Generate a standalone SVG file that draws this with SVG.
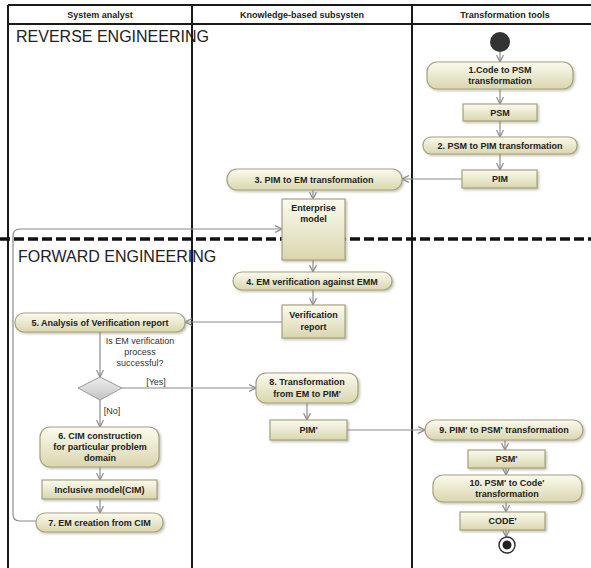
<svg xmlns="http://www.w3.org/2000/svg" width="591" height="568" viewBox="0 0 591 568">
<style>
.lane{stroke:#1a1a1a;stroke-width:2;fill:none}
.hdr{font-family:"Liberation Sans",Arial,sans-serif;font-size:9px;font-weight:bold;fill:#222;text-anchor:middle}
.sec{font-family:"Liberation Sans",Arial,sans-serif;font-size:16px;fill:#222}
.node{fill:url(#g);stroke:#a7a27a;stroke-width:1.2;filter:url(#sh)}
.t{font-family:"Liberation Sans",Arial,sans-serif;font-size:9px;font-weight:bold;fill:#222;text-anchor:middle}
.n{font-family:"Liberation Sans",Arial,sans-serif;font-size:9px;fill:#333;text-anchor:middle}
.c{stroke:#8a8a8a;stroke-width:1.2;fill:none;marker-end:url(#a)}
</style>
<defs>
<linearGradient id="g" x1="0" y1="0" x2="0" y2="1">
<stop offset="0" stop-color="#fbfbef"/>
<stop offset="1" stop-color="#d9d6ae"/>
</linearGradient>
<linearGradient id="gd" x1="0" y1="0" x2="0" y2="1">
<stop offset="0" stop-color="#eeeeee"/>
<stop offset="1" stop-color="#c4c4c4"/>
</linearGradient>
<filter id="sh" x="-10%" y="-20%" width="130%" height="150%">
<feDropShadow dx="1.5" dy="1.5" stdDeviation="1" flood-color="#888" flood-opacity="0.5"/>
</filter>
<marker id="a" viewBox="0 0 8 8" refX="7" refY="4" markerWidth="8" markerHeight="8" markerUnits="userSpaceOnUse" orient="auto">
<path d="M0,0.5 L7,4 L0,7.5" fill="none" stroke="#8a8a8a" stroke-width="1.2"/>
</marker>
</defs>
<rect width="591" height="568" fill="#fff"/>
<g id="lanes">
<text class="sec" x="16" y="42">REVERSE ENGINEERING</text>
<text class="sec" x="18" y="262">FORWARD ENGINEERING</text>
<line class="lane" x1="8" y1="5" x2="591" y2="5"/>
<line class="lane" x1="8" y1="24" x2="591" y2="24"/>
<line class="lane" x1="8" y1="5" x2="8" y2="568"/>
<line class="lane" x1="192" y1="5" x2="192" y2="568"/>
<line class="lane" x1="412" y1="5" x2="412" y2="568"/>
<text class="hdr" x="100" y="18">System analyst</text>
<text class="hdr" x="302" y="18">Knowledge-based subsysten</text>
<text class="hdr" x="505" y="18">Transformation tools</text>
</g>
<g id="connectors">
<line class="c" x1="500" y1="52" x2="500" y2="62"/>
<line class="c" x1="500" y1="89" x2="500" y2="104"/>
<line class="c" x1="500" y1="121" x2="500" y2="137"/>
<line class="c" x1="500" y1="154" x2="500" y2="170"/>
<line class="c" x1="462" y1="179" x2="402" y2="179"/>
<line class="c" x1="313" y1="190" x2="313" y2="199"/>
<path class="c" d="M36,521 H20 Q13,521 13,514 V236 Q13,229 20,229 H282"/>
<line class="c" x1="313" y1="260" x2="313" y2="272"/>
<line class="c" x1="313" y1="290" x2="313" y2="305"/>
<line class="c" x1="282" y1="322" x2="185" y2="322"/>
<line class="c" x1="100" y1="332" x2="100" y2="377"/>
<line class="c" x1="122" y1="388" x2="256" y2="388"/>
<line class="c" x1="100" y1="400" x2="100" y2="427"/>
<line class="c" x1="100" y1="467" x2="100" y2="480"/>
<line class="c" x1="100" y1="499" x2="100" y2="513"/>
<line class="c" x1="307" y1="403" x2="307" y2="420"/>
<line class="c" x1="347" y1="430" x2="425" y2="430"/>
<line class="c" x1="505" y1="440" x2="505" y2="450"/>
<line class="c" x1="506" y1="468" x2="506" y2="475"/>
<line class="c" x1="506" y1="502" x2="506" y2="512"/>
<line class="c" x1="506" y1="530" x2="506" y2="537"/>
<text class="n" x="140" y="344">Is EM verification</text>
<text class="n" x="140" y="355">process</text>
<text class="n" x="140" y="366">successful?</text>
<text class="n" x="156" y="385">[Yes]</text>
<text class="n" x="112" y="414">[No]</text>
</g>
<line x1="0" y1="239" x2="591" y2="239" stroke="#111" stroke-width="3.5" stroke-dasharray="10 4"/>
<g id="start"><circle cx="500" cy="42" r="10" fill="#333"/></g>
<g id="n1"><rect class="node" x="427" y="62" width="146" height="27" rx="10"/><text class="t" x="500" y="73">1.Code to PSM</text><text class="t" x="500" y="84">transformation</text></g>
<g id="psm"><rect class="node" x="463" y="104" width="74" height="17"/><text class="t" x="500" y="116">PSM</text></g>
<g id="n2"><rect class="node" x="423" y="137" width="154" height="17" rx="8"/><text class="t" x="500" y="149">2. PSM to PIM transformation</text></g>
<g id="pim"><rect class="node" x="462" y="170" width="75" height="18"/><text class="t" x="500" y="182">PIM</text></g>
<g id="n3"><rect class="node" x="227" y="169" width="175" height="21" rx="10"/><text class="t" x="314" y="182.5">3. PIM to EM transformation</text></g>
<g id="em"><rect class="node" x="282" y="199" width="63" height="61"/><text class="t" x="313.5" y="211">Enterprise</text><text class="t" x="313.5" y="222">model</text></g>
<g id="n4"><rect class="node" x="233" y="272" width="159" height="18" rx="9"/><text class="t" x="312" y="284.5">4. EM verification against EMM</text></g>
<g id="vr"><rect class="node" x="282" y="305" width="63" height="33"/><text class="t" x="313.5" y="318">Verification</text><text class="t" x="313.5" y="330">report</text></g>
<g id="n5"><rect class="node" x="15" y="313" width="170" height="19" rx="9"/><text class="t" x="100" y="326">5. Analysis of Verification report</text></g>
<g id="decision"><polygon points="100,377 122,388 100,400 78,388" fill="url(#gd)" stroke="#999" stroke-width="1"/></g>
<g id="n8"><rect class="node" x="256" y="373" width="102" height="30" rx="10"/><text class="t" x="307" y="385">8. Transformation</text><text class="t" x="307" y="397">from EM to PIM'</text></g>
<g id="pim2"><rect class="node" x="270" y="420" width="77" height="20"/><text class="t" x="308.5" y="433">PIM'</text></g>
<g id="n9"><rect class="node" x="425" y="420" width="158" height="20" rx="10"/><text class="t" x="504" y="433">9. PIM' to PSM' transformation</text></g>
<g id="psm2"><rect class="node" x="468" y="450" width="77" height="18"/><text class="t" x="506.5" y="462">PSM'</text></g>
<g id="n10"><rect class="node" x="433" y="475" width="149" height="27" rx="10"/><text class="t" x="507" y="486">10. PSM' to Code'</text><text class="t" x="507" y="497">transformation</text></g>
<g id="code"><rect class="node" x="460" y="512" width="85" height="18"/><text class="t" x="502.5" y="524">CODE'</text></g>
<g id="end"><circle cx="507" cy="545" r="8" fill="#fff" stroke="#333" stroke-width="1.5"/><circle cx="507" cy="545" r="4.5" fill="#222"/></g>
<g id="n6"><rect class="node" x="40" y="427" width="119" height="40" rx="10"/><text class="t" x="100" y="439">6. CIM construction</text><text class="t" x="100" y="450">for particular problem</text><text class="t" x="100" y="461">domain</text></g>
<g id="im"><rect class="node" x="42" y="480" width="115" height="19"/><text class="t" x="99.5" y="493">Inclusive model(CIM)</text></g>
<g id="n7"><rect class="node" x="36" y="513" width="127" height="19" rx="9"/><text class="t" x="99.5" y="526">7. EM creation from CIM</text></g>
</svg>
